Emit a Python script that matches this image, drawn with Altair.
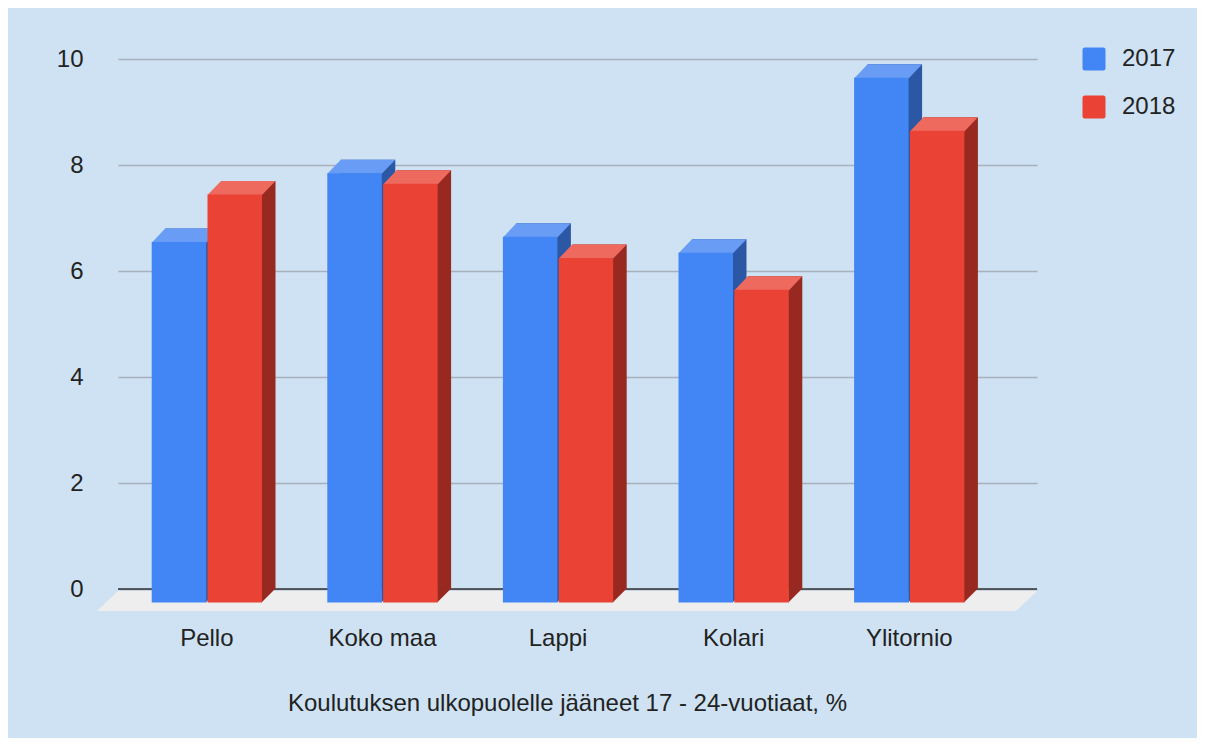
import altair as alt
import pandas as pd

# ---- data ----
kunnat = ["Pello", "Koko maa", "Lappi", "Kolari", "Ylitornio"]
vuodet = ["2017", "2018"]
arvot_2017 = [6.8, 8.1, 6.9, 6.6, 9.9]
arvot_2018 = [7.7, 7.9, 6.5, 5.9, 8.9]
y_ticks = [0, 2, 4, 6, 8, 10]
otsikko = "Koulutuksen ulkopuolelle jääneet 17 - 24-vuotiaat, %"

rows = []
for i, k in enumerate(kunnat):
    rows.append({"kunta": k, "vuosi": vuodet[0], "arvo": arvot_2017[i]})
    rows.append({"kunta": k, "vuosi": vuodet[1], "arvo": arvot_2018[i]})
df = pd.DataFrame(rows)
one_df = pd.DataFrame({"k": [0]})

# ---- layout ----
W, H = 919, 530
STEP = 175.6
GROUP = 110.3
PI = 1 - GROUP / STEP
PO = (W / STEP - 5 + PI) / 2
OUTER = W - STEP * (5 - PI)
LEFT = 33.7
D = 13.5  # 3D depth in px
ALIGN_FRONT = LEFT / OUTER
ALIGN_BACK = (LEFT + D) / OUTER
SUB_PI = 0.0233
sub_step = GROUP / (2 - SUB_PI)
BW = sub_step * (1 - SUB_PI)
hw = BW / 2

FONT = "Liberation Sans"
TXT = "#222222"

front_cols = ["#4285f4", "#ea4335"]
top_cols = ["#689cf5", "#ee6a5e"]
side_cols = ["#2b57a5", "#972921"]

top_path = (f"M{-hw:.2f},{D + 0.6:.2f} L{hw:.2f},{D + 0.6:.2f} "
            f"L{hw + D:.2f},0 L{-hw + D:.2f},0 Z")
tri_path = f"M{hw - 0.5:.2f},-0.5 L{hw + D:.2f},-0.5 L{hw - 0.5:.2f},{D:.2f} Z"
floor_path = f"M0,2 L{W},2 L{W - 21},22 L-21,22 Z"
rounded = ("M-0.8,-1 L0.8,-1 Q1,-1 1,-0.8 L1,0.8 Q1,1 0.8,1 L-0.8,1 "
           "Q-1,1 -1,0.8 L-1,-0.8 Q-1,-1 -0.8,-1 Z")


def xenc(align, axis=None):
    return alt.X("kunta:N", sort=kunnat,
                 scale=alt.Scale(type="band", paddingInner=PI, paddingOuter=PO, align=align),
                 axis=axis)


xoff = alt.XOffset("vuosi:N", sort=vuodet,
                   scale=alt.Scale(type="band", paddingInner=SUB_PI, paddingOuter=0))

yaxis = alt.Axis(values=y_ticks, title=None, domain=False, ticks=False, tickSize=0,
                 labelFont=FONT, labelFontSize=24, labelColor=TXT, labelPadding=35,
                 grid=True, gridColor="#a6b1bc", gridWidth=1.5, gridOpacity=1)
yenc = alt.Y("arvo:Q", scale=alt.Scale(domain=[0, 10], nice=False, zero=True), axis=yaxis)


def cenc(cols, legend=None):
    return alt.Color("vuosi:N", sort=vuodet,
                     scale=alt.Scale(domain=vuodet, range=cols), legend=legend)


xaxis = alt.Axis(title=otsikko, labelAngle=0, labelFont=FONT, labelFontSize=24,
                 labelColor=TXT, labelPadding=56, labelBaseline="alphabetic",
                 ticks=False, tickSize=0, domain=False, grid=False,
                 titleFont=FONT, titleFontSize=24, titleFontWeight="normal",
                 titleColor=TXT, titleX=449, titleY=121, titleBaseline="alphabetic",
                 titleAlign="center")

legend = alt.Legend(title=None, orient="none", legendX=964, legendY=-12,
                    symbolType=rounded, symbolSize=529, symbolStrokeWidth=0,
                    symbolOpacity=1, labelFont=FONT, labelFontSize=24,
                    labelColor=TXT, labelOffset=16, rowPadding=24, padding=0)

floor = alt.Chart(one_df).mark_point(
    shape=floor_path, size=4, filled=True, opacity=1, strokeWidth=0, color="#eeeeee"
).encode(x=alt.value(0), y=alt.datum(0))

zero_line = alt.Chart(one_df).mark_rule(color="#333333", strokeWidth=1.5).encode(
    y=alt.datum(0))

back = alt.Chart(df).mark_bar().encode(
    x=xenc(ALIGN_BACK), xOffset=xoff, y=yenc, y2=alt.datum(0), color=cenc(side_cols))

bottom_tri = alt.Chart(df).mark_point(
    shape=tri_path, size=4, filled=True, opacity=1, strokeWidth=0
).encode(x=xenc(ALIGN_FRONT), xOffset=xoff, y=alt.datum(0), color=cenc(side_cols))

top = alt.Chart(df).mark_point(
    shape=top_path, size=4, filled=True, opacity=1, strokeWidth=0
).encode(x=xenc(ALIGN_FRONT), xOffset=xoff, y=yenc, color=cenc(top_cols))

front = alt.Chart(df).mark_bar(yOffset=D, y2Offset=D).encode(
    x=xenc(ALIGN_FRONT, xaxis), xOffset=xoff, y=yenc, y2=alt.datum(0),
    color=cenc(front_cols, legend))

chart = alt.layer(floor, zero_line, back, bottom_tri, top, front).resolve_scale(
    x="independent", xOffset="independent", color="independent"
).properties(
    width=W, height=H,
    autosize=alt.AutoSizeParams(type="none"),
    padding={"left": 110, "top": 51, "right": 160, "bottom": 149},
    background="#cfe2f3",
    view=alt.ViewBackground(stroke="transparent", strokeWidth=0),
).configure_view(stroke="transparent", strokeWidth=0).configure(font=FONT).configure_axis(
    domain=False, ticks=False
).configure_axisX(grid=False)

chart.save("out.html", embed_options={"renderer": "svg", "actions": False})
